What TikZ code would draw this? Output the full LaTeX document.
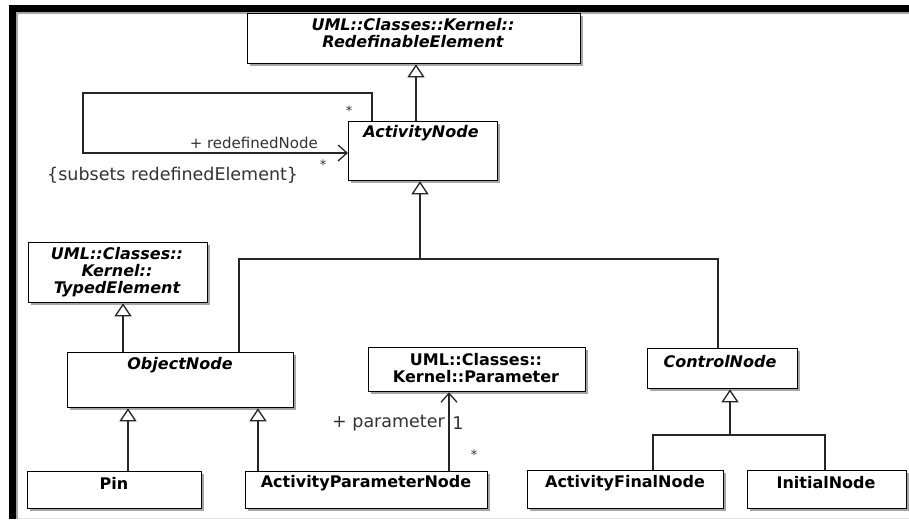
\documentclass[tikz,border=0pt]{standalone}
\usepackage{fontspec}
\setmainfont{DejaVu Sans}
\usetikzlibrary{arrows.meta,shadows}
\begin{document}
\begin{tikzpicture}[x=1pt,y=-1pt,
  box/.style={draw=black,line width=1.3pt,fill=white,inner sep=0pt,anchor=north west,
    drop shadow={shadow xshift=2.5pt,shadow yshift=-2.5pt,fill=black,opacity=0.35}},
  cname/.style={inner sep=0pt,align=center,font=\fontsize{16}{17}\selectfont\bfseries},
  aname/.style={inner sep=0pt,align=center,font=\fontsize{16}{17}\selectfont\bfseries\itshape},
  link/.style={draw=black!85,line width=1.2pt},
  gen/.style={link,-{Triangle[open,length=13pt,width=17pt,line width=1.3pt]}},
  nav/.style={link,-{Straight Barb[length=9pt,width=16pt,line width=1.3pt]}},
  role/.style={inner sep=0pt,text=black!80,font=\fontsize{17.5}{18}\selectfont},
  mult/.style={inner sep=0pt,text=black!80,font=\fontsize{13}{13}\selectfont},
]
% page and frame
\useasboundingbox (0,0) rectangle (909,519);
\fill[white] (0,0) rectangle (909,519);
\fill[black!35] (16,12) rectangle (18,519);
\fill[black!35] (16,12) rectangle (909,14);
\fill[black] (9,5) rectangle (909,12);
\fill[black] (9,5) rectangle (16,519);
\draw[black!10,line width=1pt] (18,518) -- (909,518);

% classes
\node[box,minimum width=333pt,minimum height=50pt] (re) at (247,13) {};
\node[aname] (reT) at (413,33.5) {UML::Classes::Kernel::\\RedefinableElement};

\node[box,minimum width=149pt,minimum height=59pt] (an) at (348,121) {};
\node[aname] (anT) at (421,133) {ActivityNode};

\node[box,minimum width=179pt,minimum height=60pt] (te) at (28,242) {};
\node[aname] (teT) at (117,272) {UML::Classes::\\Kernel::\\TypedElement};

\node[box,minimum width=226pt,minimum height=55pt] (on) at (67,352) {};
\node[aname] (onT) at (180,365) {ObjectNode};

\node[box,minimum width=217pt,minimum height=44pt] (par) at (368,347) {};
\node[cname] (parT) at (476,368.5) {UML::Classes::\\Kernel::Parameter};

\node[box,minimum width=150pt,minimum height=40pt] (cn) at (647,348) {};
\node[aname] (cnT) at (720,362) {ControlNode};

\node[box,minimum width=174pt,minimum height=37pt] (pin) at (27,471) {};
\node[cname] (pinT) at (114,483) {Pin};

\node[box,minimum width=242pt,minimum height=37pt] (apn) at (245,471) {};
\node[cname] (apnT) at (366,483) {ActivityParameterNode};

\node[box,minimum width=196pt,minimum height=38pt] (afn) at (527,470) {};
\node[cname] (afnT) at (625,483) {ActivityFinalNode};

\node[box,minimum width=159pt,minimum height=38pt] (in) at (747,470) {};
\node[cname] (inT) at (826,483) {InitialNode};

% routing points
\coordinate (gRe) at (416,0);
\coordinate (loopStart) at (372,0);
\coordinate (loopCorner) at (83,93);
\coordinate (loopEnd) at (0,153);
\coordinate (busTop) at (420,259);
\coordinate (busL) at (239,259);
\coordinate (busR) at (718,259);
\coordinate (gTe) at (123,0);
\coordinate (gPin) at (128,0);
\coordinate (gApn) at (258,0);
\coordinate (aPar) at (449,0);
\coordinate (busC) at (730,435);
\coordinate (busCL) at (653,435);
\coordinate (busCR) at (825,435);

% generalizations
\draw[gen] (an.north -| gRe) -- (re.south -| gRe);
\draw[gen] (busTop) -- (an.south -| busTop);
\draw[link] (on.north -| busL) -- (busL) -- (busR) -- (cn.north -| busR);
\draw[gen] (on.north -| gTe) -- (te.south -| gTe);
\draw[gen] (pin.north -| gPin) -- (on.south -| gPin);
\draw[gen] (apn.north -| gApn) -- (on.south -| gApn);
\draw[gen] (busC) -- (cn.south -| busC);
\draw[link] (afn.north -| busCL) -- (busCL) -- (busCR) -- (in.north -| busCR);

% associations
\draw[nav] (an.north -| loopStart) |- (loopCorner) |- (an.west |- loopEnd);
\draw[nav] (apn.north -| aPar) -- (par.south -| aPar);

% association ends
\node[mult] (m1) at (349,111) {*};
\node[inner sep=0pt,text=black!80,font=\fontsize{15}{15}\selectfont,anchor=east] (r1) at (318,143) {+ redefinedNode};
\node[mult] (m2) at (323,165) {*};
\node[role,anchor=west] (c1) at (47,175) {\{subsets redefinedElement\}};
\node[role,anchor=east] (r2) at (445,423) {+ parameter};
\node[role] (m3) at (458,423) {1};
\node[mult] (m4) at (474,455) {*};
\end{tikzpicture}
\end{document}
